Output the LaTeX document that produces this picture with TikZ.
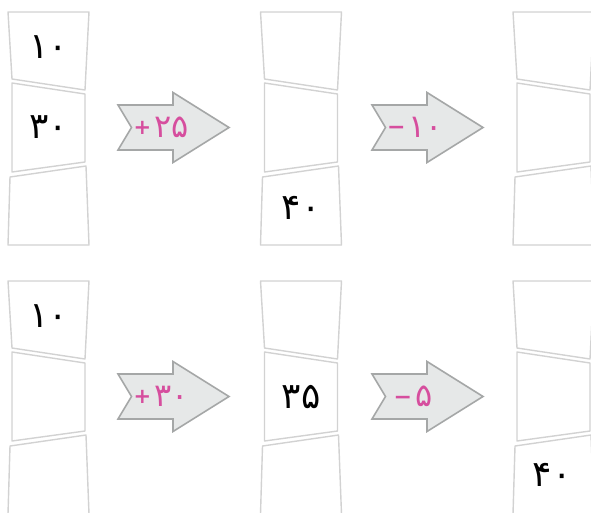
\documentclass[tikz,border=0pt]{standalone}
\usepackage{fontspec}
\newfontfamily\fa{DejaVu Sans}
\definecolor{cellgray}{HTML}{D2D2D2}
\definecolor{arrowgray}{HTML}{A5A7A7}
\definecolor{arrowfill}{HTML}{E6E8E8}
\definecolor{pinklabel}{HTML}{D64E9E}
\newcommand\cellcol[2]{%
  \begin{scope}[shift={(#1,#2)}]
    \draw[cell] (0,0) -- (81,0) -- (77,78) -- (4,67) -- cycle;
    \draw[cell] (4,71) -- (77,82) -- (77,150) -- (4,160) -- cycle;
    \draw[cell] (2,165) -- (78,154) -- (81,233) -- (0,233) -- cycle;
  \end{scope}}
\newcommand\opshape[2]{%
  \begin{scope}[shift={(#1,#2)}]
    \draw[arrowbox] (0,-22.5) -- (55,-22.5) -- (55,-35) -- (111,0) -- (55,35) -- (55,22.5) -- (0,22.5) -- (13.5,0) -- cycle;
  \end{scope}}
\newcommand\smallplus{\raisebox{2.8pt}{\fontsize{21}{21}\selectfont\bfseries +}\kern3pt}
\newcommand\smallminus{\raisebox{2.2pt}{\fontsize{22}{22}\selectfont\bfseries −}\kern3pt}
\begin{document}
\begin{tikzpicture}[x=1pt,y=-1pt,
  cell/.style={draw=cellgray, line width=1.4pt, fill=white, line join=round},
  arrowbox/.style={draw=arrowgray, fill=arrowfill, line width=1.6pt, line join=miter},
  num/.style={font=\fa\fontsize{36}{38}\selectfont, text=black, inner sep=0pt},
  op/.style={font=\fa\fontsize{32}{34}\selectfont, text=pinklabel, inner sep=0pt}]
\useasboundingbox (0,0) rectangle (591,512);
\clip (0,0) rectangle (591,512);
% top group
\cellcol{8}{12}
\cellcol{260.5}{12}
\cellcol{513}{12}
\opshape{118}{127.5}
\opshape{372}{127.5}
% bottom group
\cellcol{8}{281}
\cellcol{260.5}{281}
\cellcol{513}{281}
\opshape{118}{396.5}
\opshape{372}{396.5}
% texts top
\node[num] (ta1) at (48.5,47) {۱۰};
\node[num] (ta2) at (48.5,127) {۳۰};
\node[num] (tb3) at (301,208) {۴۰};
\node[op] (top1) at (161,127) {\smallplus۲۵};
\node[op] (top2) at (415,127) {\smallminus۱۰};
% texts bottom
\node[num] (ba1) at (48.5,316) {۱۰};
\node[num] (bb2) at (301,397) {۳۵};
\node[num] (bc3) at (552,475) {۴۰};
\node[op] (bop1) at (161,396) {\smallplus۳۰};
\node[op] (bop2) at (413,396) {\smallminus۵};
\end{tikzpicture}
\end{document}
